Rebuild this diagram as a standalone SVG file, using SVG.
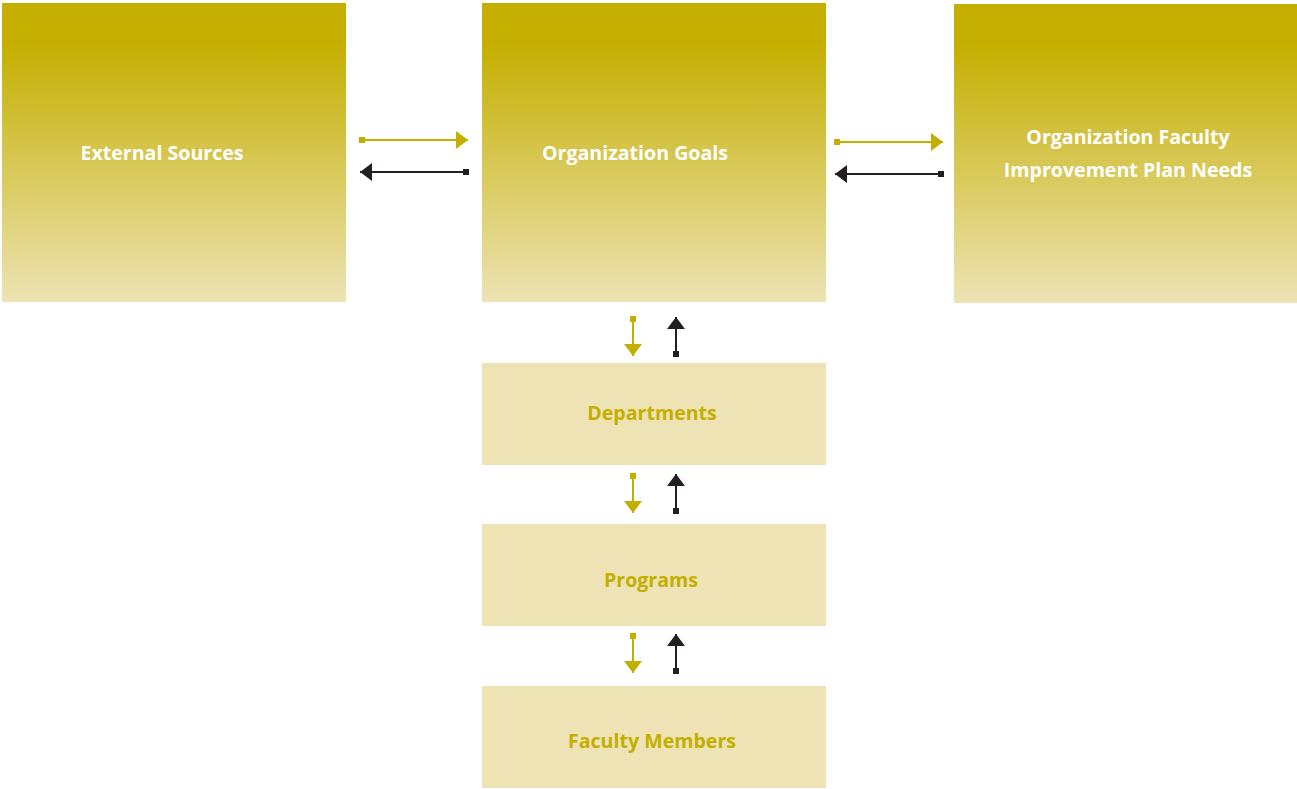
<svg xmlns="http://www.w3.org/2000/svg" width="1297" height="789" viewBox="0 0 1297 789">
  <style>
    .lbl { font-family: "Open Sans", "Liberation Sans", sans-serif; font-weight: bold; font-size: 19.6px; text-anchor: middle; }
    .top { fill: #FFFFFF; }
    .sub { fill: #C4AF00; }
    .box { fill: #EDE3B4; }
    .down { stroke: #C4AF00; stroke-width: 2; fill: none; }
    .up { stroke: #231F20; stroke-width: 2; fill: none; }
  </style>
  <defs>
    <linearGradient id="fade" x1="0" y1="0" x2="0" y2="1">
      <stop offset="0" stop-color="#C4AF00"/>
      <stop offset="0.13" stop-color="#C4AF00"/>
      <stop offset="1" stop-color="#EDE3B4"/>
    </linearGradient>
    <marker id="headY" markerUnits="userSpaceOnUse" markerWidth="13" markerHeight="20" refX="12" refY="10" orient="auto" viewBox="0 0 13 20">
      <path d="M0,1 L12,10 L0,19 Z" fill="#C4AF00"/>
    </marker>
    <marker id="headK" markerUnits="userSpaceOnUse" markerWidth="13" markerHeight="20" refX="12" refY="10" orient="auto" viewBox="0 0 13 20">
      <path d="M0,1 L12,10 L0,19 Z" fill="#231F20"/>
    </marker>
    <marker id="tailY" markerUnits="userSpaceOnUse" markerWidth="8" markerHeight="8" refX="4" refY="4" viewBox="0 0 8 8">
      <rect x="1" y="1" width="6" height="6" fill="#C4AF00"/>
    </marker>
    <marker id="tailK" markerUnits="userSpaceOnUse" markerWidth="8" markerHeight="8" refX="4" refY="4" viewBox="0 0 8 8">
      <rect x="1" y="1" width="6" height="6" fill="#231F20"/>
    </marker>
  </defs>

  <g id="external-sources">
    <rect x="2" y="3" width="344" height="299" fill="url(#fade)"/>
    <text class="lbl top" x="162" y="160">External Sources</text>
  </g>
  <g id="organization-goals">
    <rect x="482" y="3" width="344" height="299" fill="url(#fade)"/>
    <text class="lbl top" x="635" y="160">Organization Goals</text>
  </g>
  <g id="improvement-plan-needs">
    <rect x="954" y="4" width="343" height="299" fill="url(#fade)"/>
    <text class="lbl top" x="1128" y="144">Organization Faculty</text>
    <text class="lbl top" x="1128" y="177">Improvement Plan Needs</text>
  </g>
  <g id="departments">
    <rect class="box" x="482" y="363" width="344" height="102"/>
    <text class="lbl sub" x="652" y="420">Departments</text>
  </g>
  <g id="programs">
    <rect class="box" x="482" y="524" width="344" height="102"/>
    <text class="lbl sub" x="651" y="587">Programs</text>
  </g>
  <g id="faculty-members">
    <rect class="box" x="482" y="686" width="344" height="102"/>
    <text class="lbl sub" x="652" y="748">Faculty Members</text>
  </g>

  <g id="connectors">
    <path class="down" d="M362,140 H468" marker-start="url(#tailY)" marker-end="url(#headY)"/>
    <path class="up" d="M466,172 H360" marker-start="url(#tailK)" marker-end="url(#headK)"/>
    <path class="down" d="M837,142 H943" marker-start="url(#tailY)" marker-end="url(#headY)"/>
    <path class="up" d="M941,174 H835" marker-start="url(#tailK)" marker-end="url(#headK)"/>

    <path class="down" d="M633,319 V356" marker-start="url(#tailY)" marker-end="url(#headY)"/>
    <path class="up" d="M676,354 V317" marker-start="url(#tailK)" marker-end="url(#headK)"/>
    <path class="down" d="M633,476 V513" marker-start="url(#tailY)" marker-end="url(#headY)"/>
    <path class="up" d="M676,511 V474" marker-start="url(#tailK)" marker-end="url(#headK)"/>
    <path class="down" d="M633,636 V673" marker-start="url(#tailY)" marker-end="url(#headY)"/>
    <path class="up" d="M676,671 V634" marker-start="url(#tailK)" marker-end="url(#headK)"/>
  </g>
</svg>
